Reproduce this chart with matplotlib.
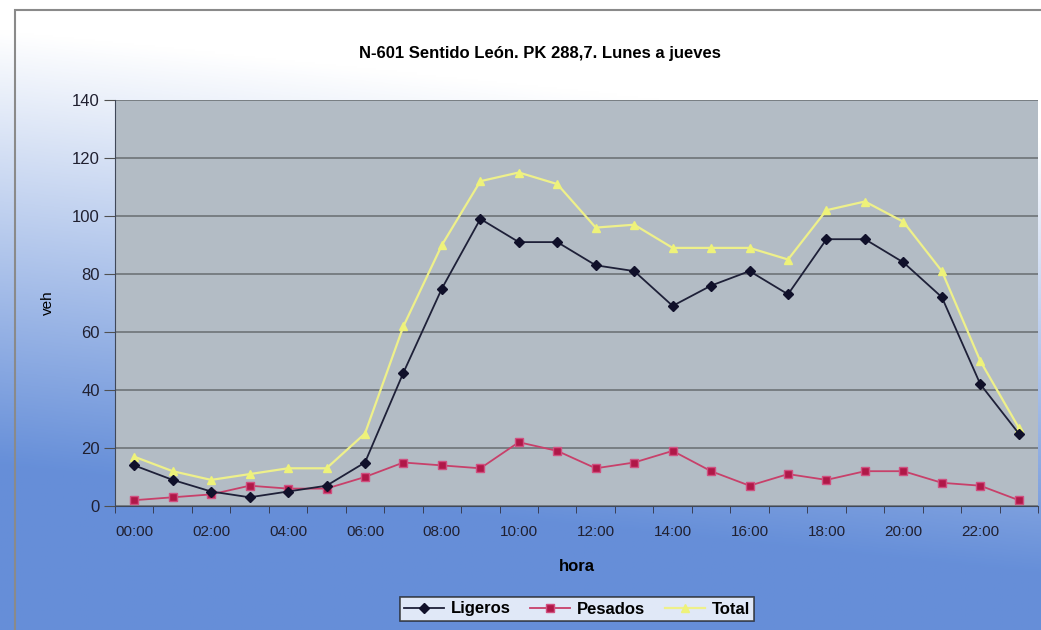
import numpy as np
import matplotlib
matplotlib.use("Agg")
import matplotlib.pyplot as plt
from matplotlib.patches import Rectangle

plt.rcParams['font.family'] = ['Liberation Sans', 'DejaVu Sans']

# data
horas = ["%02d:00" % h for h in range(24)]
ligeros = [14, 9, 5, 3, 5, 7, 15, 46, 75, 99, 91, 91, 83, 81, 69, 76, 81, 73, 92, 92, 84, 72, 42, 25]
pesados = [2, 3, 4, 7, 6, 6, 10, 15, 14, 13, 22, 19, 13, 15, 19, 12, 7, 11, 9, 12, 12, 8, 7, 2]
total = [17, 12, 9, 11, 13, 13, 25, 62, 90, 112, 115, 111, 96, 97, 89, 89, 89, 85, 102, 105, 98, 81, 50, 27]
yticks = [0, 20, 40, 60, 80, 100, 120, 140]

fig = plt.figure(figsize=(10.41, 6.3), dpi=100)

# background gradient: white at top, blue towards the bottom-left
bg = fig.add_axes([0, 0, 1, 1], zorder=-10)
yy, xx = np.mgrid[0:1:300j, 0:1:500j]
t = np.clip(1.45 * yy - 0.32 + 0.25 * (1 - xx), 0, 1)[..., None]
white = np.array([1.0, 1.0, 1.0])
blue = np.array([0.40, 0.56, 0.85])
bg.imshow(white * (1 - t) + blue * t, aspect='auto', extent=[0, 1, 0, 1], origin='upper')
bg.set_axis_off()
fig.patches.append(Rectangle((15 / 1041, -0.05), 1.2, 1 - 10 / 630 + 0.05,
                             transform=fig.transFigure, fill=False,
                             edgecolor='#8a8a8a', linewidth=1.5, zorder=-5))

ax = fig.add_axes([115 / 1041, 1 - 506 / 630, (1038 - 115) / 1041, (506 - 100) / 630])
ax.set_facecolor('#b3bcc5')
x = np.arange(len(horas))

ax.plot(x, total, color='#eef08a', marker='^', markersize=6, linewidth=1.6,
        markerfacecolor='#eef27a', markeredgecolor='#eef27a', label='Total', zorder=3)
ax.plot(x, pesados, color='#c8406a', marker='s', markersize=6, linewidth=1.3,
        markerfacecolor='#b01848', markeredgecolor='#d05080', label='Pesados', zorder=4)
ax.plot(x, ligeros, color='#1e2038', marker='D', markersize=5, linewidth=1.3,
        markerfacecolor='#10102a', markeredgecolor='#10102a', label='Ligeros', zorder=5)

ax.set_xlim(-0.5, len(horas) - 0.5)
ax.set_ylim(0, 140)
ax.set_yticks(yticks)
ax.yaxis.grid(True, color='#6e7378', linewidth=1.2)
ax.set_axisbelow(True)
ax.set_xticks(x[::2])
ax.set_xticklabels(horas[::2], fontsize=11, color='#202030')
ax.set_xticks(np.arange(len(horas) + 1) - 0.5, minor=True)
ax.tick_params(axis='x', which='major', length=0, pad=14)
ax.tick_params(axis='x', which='minor', length=5, direction='out', color='#303040')
ax.tick_params(axis='y', labelsize=12, length=8, pad=3, color='#505050', labelcolor='#202030')
for side in ['top', 'right']:
    ax.spines[side].set_visible(False)
ax.spines['left'].set_color('#404858')
ax.spines['bottom'].set_color('#404858')

ax.set_title('N-601 Sentido León. PK 288,7. Lunes a jueves', fontsize=12,
             fontweight='bold', pad=30, x=0.46)
ax.set_ylabel('veh', fontsize=11, labelpad=12)
ax.set_xlabel('hora', fontsize=12, fontweight='bold', labelpad=14)

handles, labels = ax.get_legend_handles_labels()
order = [2, 1, 0]
leg = fig.legend([handles[i] for i in order], [labels[i] for i in order],
                 loc='center', bbox_to_anchor=(577 / 1041, 1 - 609 / 630), ncol=3,
                 frameon=True, fancybox=False, fontsize=12, handlelength=2.4,
                 columnspacing=1.2, handletextpad=0.4, borderpad=0.25)
leg.get_frame().set_edgecolor('#202020')
leg.get_frame().set_linewidth(1.2)
for txt in leg.get_texts():
    txt.set_fontweight('bold')

fig.savefig('out.png', dpi=100)
